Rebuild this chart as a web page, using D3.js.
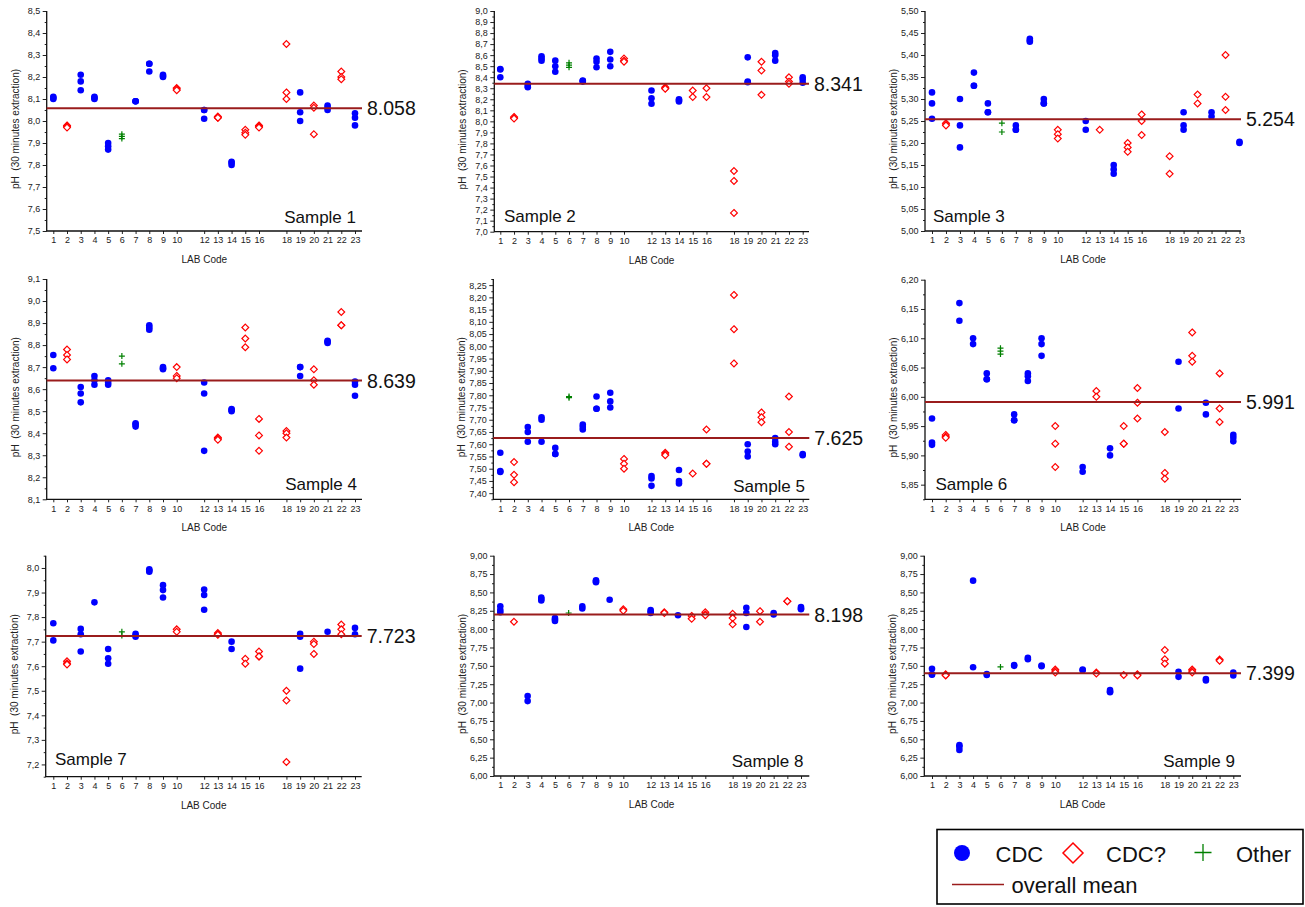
<!DOCTYPE html>
<html>
<head>
<meta charset="utf-8">
<script src="https://cdn.jsdelivr.net/npm/d3@7"></script>
<style>
  html, body { margin: 0; padding: 0; background: #fff; }
  svg { display: block; font-family: "Liberation Sans", Arial, sans-serif; }
  .ytitle { white-space: pre; }
</style>
</head>
<body>
<svg id="chart" width="1305" height="907"></svg>
<script>
// Laboratory codes on the x axis (11 and 17 did not report)
const labCodes = [1, 2, 3, 4, 5, 6, 7, 8, 9, 10, 12, 13, 14, 15, 16, 18, 19, 20, 21, 22, 23];
// Extraction method per laboratory
const cdcLabs = [1, 3, 4, 5, 7, 8, 9, 12, 14, 19, 21, 23];
const cdcQueryLabs = [2, 10, 13, 15, 16, 18, 20, 22];
const otherLabs = [6];

const sampleTitles = ["Sample 1", "Sample 2", "Sample 3", "Sample 4", "Sample 5",
                      "Sample 6", "Sample 7", "Sample 8", "Sample 9"];
const overallMeans = [8.058, 8.341, 5.254, 8.639, 7.625, 5.991, 7.723, 8.198, 7.399];

// y axis ranges, major tick step and decimals of the tick labels
const yDomains = [[7.5, 8.5], [7.0, 9.0], [5.0, 5.5], [8.1, 9.1], [7.375, 8.275],
                  [5.825, 6.20], [7.15, 8.05], [6.0, 9.0], [6.0, 9.0]];
const yMajorSteps = [0.1, 0.1, 0.05, 0.1, 0.05, 0.05, 0.1, 0.25, 0.25];
const yDecimals = [1, 1, 2, 1, 2, 2, 1, 2, 2];

// Replicate pH readings, one list per lab in labCodes order
const sample1 = [
  [8.11, 8.105, 8.10], [7.98, 7.975, 7.97], [8.21, 8.18, 8.14], [8.11, 8.105, 8.10],
  [7.90, 7.885, 7.87], [7.94, 7.93, 7.92], [8.09, 8.09, 8.09], [8.26, 8.26, 8.225],
  [8.21, 8.205, 8.20], [8.15, 8.145, 8.14], [8.05, 8.05, 8.01], [8.02, 8.015, 8.015],
  [7.815, 7.81, 7.80], [7.96, 7.947, 7.937], [7.98, 7.975, 7.97], [8.35, 8.13, 8.10],
  [8.13, 8.04, 8.00], [8.07, 8.06, 7.94], [8.07, 8.06, 8.05], [8.225, 8.20, 8.19],
  [8.035, 8.015, 7.98]
];
const sample2 = [
  [8.475, 8.47, 8.40], [8.04, 8.03, 8.025], [8.34, 8.32, 8.31], [8.59, 8.57, 8.55],
  [8.55, 8.50, 8.45], [8.53, 8.51, 8.49], [8.37, 8.365, 8.36], [8.57, 8.54, 8.49],
  [8.63, 8.56, 8.50], [8.57, 8.55, 8.54], [8.28, 8.21, 8.16], [8.31, 8.30, 8.295],
  [8.20, 8.19, 8.18], [8.28, 8.22], [8.30, 8.22], [7.55, 7.46, 7.17],
  [8.58, 8.36, 8.355], [8.54, 8.46, 8.24], [8.62, 8.60, 8.55], [8.40, 8.36, 8.34],
  [8.40, 8.38, 8.35]
];
const sample3 = [
  [5.315, 5.29, 5.255], [5.245, 5.243, 5.24], [5.30, 5.24, 5.19], [5.36, 5.33, 5.33],
  [5.29, 5.27, 5.27], [5.245, 5.225], [5.24, 5.23, 5.23], [5.437, 5.433, 5.43],
  [5.30, 5.29, 5.29], [5.23, 5.22, 5.21], [5.25, 5.23], [5.23],
  [5.15, 5.14, 5.13], [5.20, 5.19, 5.18], [5.265, 5.25, 5.218], [5.17, 5.13],
  [5.27, 5.24, 5.23], [5.31, 5.29], [5.27, 5.26], [5.40, 5.305, 5.275],
  [5.203, 5.20]
];
const sample4 = [
  [8.755, 8.695], [8.78, 8.755, 8.735], [8.61, 8.58, 8.54], [8.66, 8.64, 8.62],
  [8.64, 8.63, 8.62], [8.75, 8.715], [8.445, 8.44, 8.43], [8.89, 8.88, 8.87],
  [8.70, 8.695, 8.69], [8.70, 8.66, 8.65], [8.63, 8.58, 8.32], [8.38, 8.375, 8.37],
  [8.51, 8.505, 8.50], [8.88, 8.83, 8.79], [8.465, 8.39, 8.32], [8.41, 8.40, 8.38],
  [8.70, 8.70, 8.66], [8.69, 8.64, 8.62], [8.82, 8.815, 8.81], [8.95, 8.89, 8.89],
  [8.635, 8.62, 8.57]
];
const sample5 = [
  [7.565, 7.49, 7.487], [7.527, 7.475, 7.445], [7.67, 7.65, 7.61], [7.71, 7.70, 7.61],
  [7.585, 7.56, 7.56], [7.795, 7.79], [7.68, 7.67, 7.66], [7.795, 7.745, 7.745],
  [7.81, 7.775, 7.75], [7.54, 7.52, 7.50], [7.47, 7.46, 7.43], [7.565, 7.56, 7.555],
  [7.495, 7.45, 7.44], [7.48], [7.66, 7.52, 7.52], [8.21, 8.07, 7.93],
  [7.60, 7.57, 7.55], [7.73, 7.71, 7.69], [7.625, 7.61, 7.60], [7.795, 7.65, 7.59],
  [7.56, 7.555]
];
const sample6 = [
  [5.963, 5.922, 5.918], [5.935, 5.932, 5.93], [6.16, 6.13], [6.10, 6.09],
  [6.04, 6.03, 6.03], [6.083, 6.078, 6.073], [5.97, 5.96, 5.96], [6.04, 6.035, 6.027],
  [6.10, 6.09, 6.07], [5.95, 5.92, 5.88], [5.88, 5.872], [6.01, 6.00],
  [5.912, 5.90], [5.95, 5.92, 5.92], [6.015, 5.99, 5.963], [5.94, 5.87, 5.86],
  [6.06, 5.98], [6.11, 6.07, 6.06], [5.99, 5.97], [6.04, 5.98, 5.957],
  [5.935, 5.93, 5.924]
];
const sample7 = [
  [7.775, 7.705], [7.62, 7.612, 7.607], [7.752, 7.73, 7.66], [7.86],
  [7.67, 7.632, 7.61], [7.74, 7.725], [7.732, 7.725, 7.72], [7.995, 7.99, 7.985],
  [7.93, 7.91, 7.88], [7.75, 7.74], [7.912, 7.89, 7.83], [7.735, 7.73, 7.728],
  [7.70, 7.67], [7.63, 7.61], [7.66, 7.64, 7.64], [7.50, 7.46, 7.21],
  [7.732, 7.72, 7.59], [7.70, 7.69, 7.65], [7.74], [7.77, 7.75, 7.73],
  [7.756, 7.73]
];
const sample8 = [
  [8.31, 8.26, 8.23], [8.10], [7.09, 7.02], [8.43, 8.41, 8.39],
  [8.15, 8.13, 8.11], [8.22], [8.31, 8.28], [8.665, 8.65, 8.64],
  [8.40], [8.27, 8.25], [8.26, 8.24, 8.22], [8.23, 8.22],
  [8.19], [8.18, 8.14], [8.23, 8.20, 8.19], [8.21, 8.15, 8.065],
  [8.29, 8.22, 8.03], [8.245, 8.10], [8.22, 8.20], [8.38, 8.38],
  [8.30, 8.28, 8.27]
];
const sample9 = [
  [7.46, 7.385, 7.38], [7.385, 7.375, 7.37], [6.42, 6.40, 6.355], [8.66, 7.48],
  [7.39, 7.375], [7.485], [7.51, 7.50], [7.61, 7.59],
  [7.505, 7.495], [7.45, 7.43, 7.41], [7.45, 7.44], [7.41, 7.395],
  [7.17, 7.15, 7.14], [7.375], [7.385, 7.37], [7.715, 7.59, 7.53],
  [7.42, 7.35], [7.45, 7.43, 7.41], [7.32, 7.30], [7.585, 7.57],
  [7.41, 7.37]
];
const samples = [sample1, sample2, sample3, sample4, sample5, sample6, sample7, sample8, sample9];

// Panel frames: axis extent, pixel position of lab 1 and lab 23, title placement
const frames = [
  { left: 46.7, first: 53.3, last: 355,    right: 362,   top: 11,    bottom: 231,   title: "end",   tx: 356,    ty: 223 },
  { left: 494.3, first: 500.3, last: 802.7, right: 809,  top: 11,    bottom: 231.7, title: "start", tx: 504,    ty: 222 },
  { left: 925,  first: 932,  last: 1239.5, right: 1241,  top: 11,    bottom: 231,   title: "start", tx: 933,    ty: 222 },
  { left: 46.7, first: 53.3, last: 355,    right: 362,   top: 279,   bottom: 499.3, title: "end",   tx: 357,    ty: 490 },
  { left: 493.3, first: 500.3, last: 802.7, right: 809.3, top: 279,  bottom: 499.3, title: "end",   tx: 805,    ty: 491.5 },
  { left: 925,  first: 932,  last: 1233.3, right: 1241,  top: 279.7, bottom: 499.3, title: "start", tx: 935.5,  ty: 490 },
  { left: 45.7, first: 53.3, last: 355,    right: 361.7, top: 555.7, bottom: 776.7, title: "start", tx: 55,     ty: 765 },
  { left: 494,  first: 500.3, last: 801,   right: 809.3, top: 555.7, bottom: 776,   title: "end",   tx: 803.5,  ty: 766.5 },
  { left: 924.3, first: 932, last: 1233.3, right: 1241,  top: 555.7, bottom: 776,   title: "end",   tx: 1235,   ty: 766.5 }
];

const BLUE = "#0000ff", RED = "#ff0000", GREEN = "#008000", MEAN = "#9a1c1c";
const svg = d3.select("#chart");

const diamond = s => `M0,${-s}L${s},0L0,${s}L${-s},0Z`;
const plus = s => `M${-s},0H${s}M0,${-s}V${s}`;

function groupOf(lab) {
  if (cdcLabs.includes(lab)) return "cdc";
  if (cdcQueryLabs.includes(lab)) return "cdcq";
  return "other";
}

samples.forEach((readings, i) => {
  const f = frames[i];
  const g = svg.append("g");
  const x = d3.scaleLinear().domain([1, 23]).range([f.first, f.last]);
  const y = d3.scaleLinear().domain(yDomains[i]).range([f.bottom, f.top]);

  const [d0, d1] = yDomains[i];
  const step = yMajorSteps[i];
  const eps = 1e-6;
  const majors = d3.range(Math.ceil(d0 / step - eps), Math.floor(d1 / step + eps) + 1).map(k => +(k * step).toFixed(4));
  const half = step / 2;
  const minors = d3.range(Math.ceil(d0 / half - eps), Math.floor(d1 / half + eps) + 1)
    .map(k => +(k * half).toFixed(4))
    .filter(v => !majors.some(m => Math.abs(m - v) < eps));
  const fmt = v => v.toFixed(yDecimals[i]).replace(".", ",");

  // y axis: major ticks with labels, minor ticks between them
  const ya = g.append("g").attr("transform", `translate(${f.left},0)`)
    .call(d3.axisLeft(y).tickValues(majors).tickFormat(fmt).tickSize(4).tickSizeOuter(0).tickPadding(2.5));
  ya.select(".domain").remove();
  ya.selectAll("text").attr("font-size", 9).attr("fill", "#222").attr("font-family", "Liberation Sans, Arial, sans-serif");
  ya.selectAll("line").attr("stroke", "#222");
  const ym = g.append("g").attr("transform", `translate(${f.left},0)`)
    .call(d3.axisLeft(y).tickValues(minors).tickFormat("").tickSize(2).tickSizeOuter(0));
  ym.select(".domain").remove();
  ym.selectAll("line").attr("stroke", "#222");

  // x axis: one tick per lab code
  const xa = g.append("g").attr("transform", `translate(0,${f.bottom})`)
    .call(d3.axisBottom(x).tickValues(labCodes).tickFormat(d3.format("d")).tickSize(3).tickSizeOuter(0).tickPadding(3));
  xa.select(".domain").remove();
  xa.selectAll("text").attr("font-size", 9).attr("fill", "#222").attr("font-family", "Liberation Sans, Arial, sans-serif");
  xa.selectAll("line").attr("stroke", "#222");

  // axis lines
  g.append("path")
    .attr("d", `M${f.left},${f.top}V${f.bottom}H${f.right}`)
    .attr("fill", "none").attr("stroke", "#111").attr("stroke-width", 1.3);

  // axis titles
  g.append("text")
    .attr("class", "ytitle")
    .attr("transform", `translate(${f.left - 28},${(f.top + f.bottom) / 2 + 8}) rotate(-90)`)
    .attr("text-anchor", "middle").attr("font-size", 10).attr("fill", "#222")
    .text("pH  (30 minutes extraction)");
  g.append("text")
    .attr("x", (f.left + f.right) / 2).attr("y", f.bottom + 32)
    .attr("text-anchor", "middle").attr("font-size", 10).attr("fill", "#222")
    .text("LAB Code");

  // replicate readings
  const pts = [];
  labCodes.forEach((lab, j) => readings[j].forEach(v => pts.push({ lab, v, grp: groupOf(lab) })));

  g.selectAll("circle.cdc").data(pts.filter(p => p.grp === "cdc")).join("circle")
    .attr("class", "cdc")
    .attr("cx", p => x(p.lab)).attr("cy", p => y(p.v)).attr("r", 3.3)
    .attr("fill", BLUE);
  g.selectAll("path.cdcq").data(pts.filter(p => p.grp === "cdcq")).join("path")
    .attr("class", "cdcq")
    .attr("transform", p => `translate(${x(p.lab)},${y(p.v)})`)
    .attr("d", diamond(3.4))
    .attr("fill", "#fff").attr("stroke", RED).attr("stroke-width", 1.2);
  g.selectAll("path.other").data(pts.filter(p => p.grp === "other")).join("path")
    .attr("class", "other")
    .attr("transform", p => `translate(${x(p.lab)},${y(p.v)})`)
    .attr("d", plus(3))
    .attr("fill", "none").attr("stroke", GREEN).attr("stroke-width", 1.2);

  // overall mean
  const my = y(overallMeans[i]);
  g.append("line")
    .attr("x1", f.left).attr("x2", f.right).attr("y1", my).attr("y2", my)
    .attr("stroke", MEAN).attr("stroke-width", 2);
  g.append("text")
    .attr("x", f.right + 5).attr("y", my + 7)
    .attr("font-size", 19.5).attr("fill", "#111")
    .text(overallMeans[i].toFixed(3));

  // sample title
  g.append("text")
    .attr("x", f.tx).attr("y", f.ty)
    .attr("text-anchor", f.title)
    .attr("font-size", 17).attr("fill", "#111")
    .text(sampleTitles[i]);
});

// legend
const lg = svg.append("g");
lg.append("rect").attr("x", 937).attr("y", 829.5).attr("width", 366).attr("height", 74.5)
  .attr("fill", "#fff").attr("stroke", "#000").attr("stroke-width", 1.6);
lg.append("circle").attr("cx", 962).attr("cy", 853).attr("r", 8).attr("fill", BLUE);
lg.append("text").attr("x", 995.5).attr("y", 861.5).attr("font-size", 22).attr("fill", "#111").text("CDC");
lg.append("path").attr("transform", "translate(1073,853)").attr("d", diamond(10))
  .attr("fill", "#fff").attr("stroke", RED).attr("stroke-width", 1.5);
lg.append("text").attr("x", 1106).attr("y", 861.5).attr("font-size", 22).attr("fill", "#111").text("CDC?");
lg.append("path").attr("transform", "translate(1203,852.5)").attr("d", plus(8.5))
  .attr("fill", "none").attr("stroke", GREEN).attr("stroke-width", 1.3);
lg.append("text").attr("x", 1236).attr("y", 861.5).attr("font-size", 22).attr("fill", "#111").text("Other");
lg.append("line").attr("x1", 952).attr("x2", 1004).attr("y1", 884.5).attr("y2", 884.5)
  .attr("stroke", MEAN).attr("stroke-width", 1.5);
lg.append("text").attr("x", 1011.5).attr("y", 892.5).attr("font-size", 22).attr("fill", "#111").text("overall mean");
</script>
</body>
</html>
